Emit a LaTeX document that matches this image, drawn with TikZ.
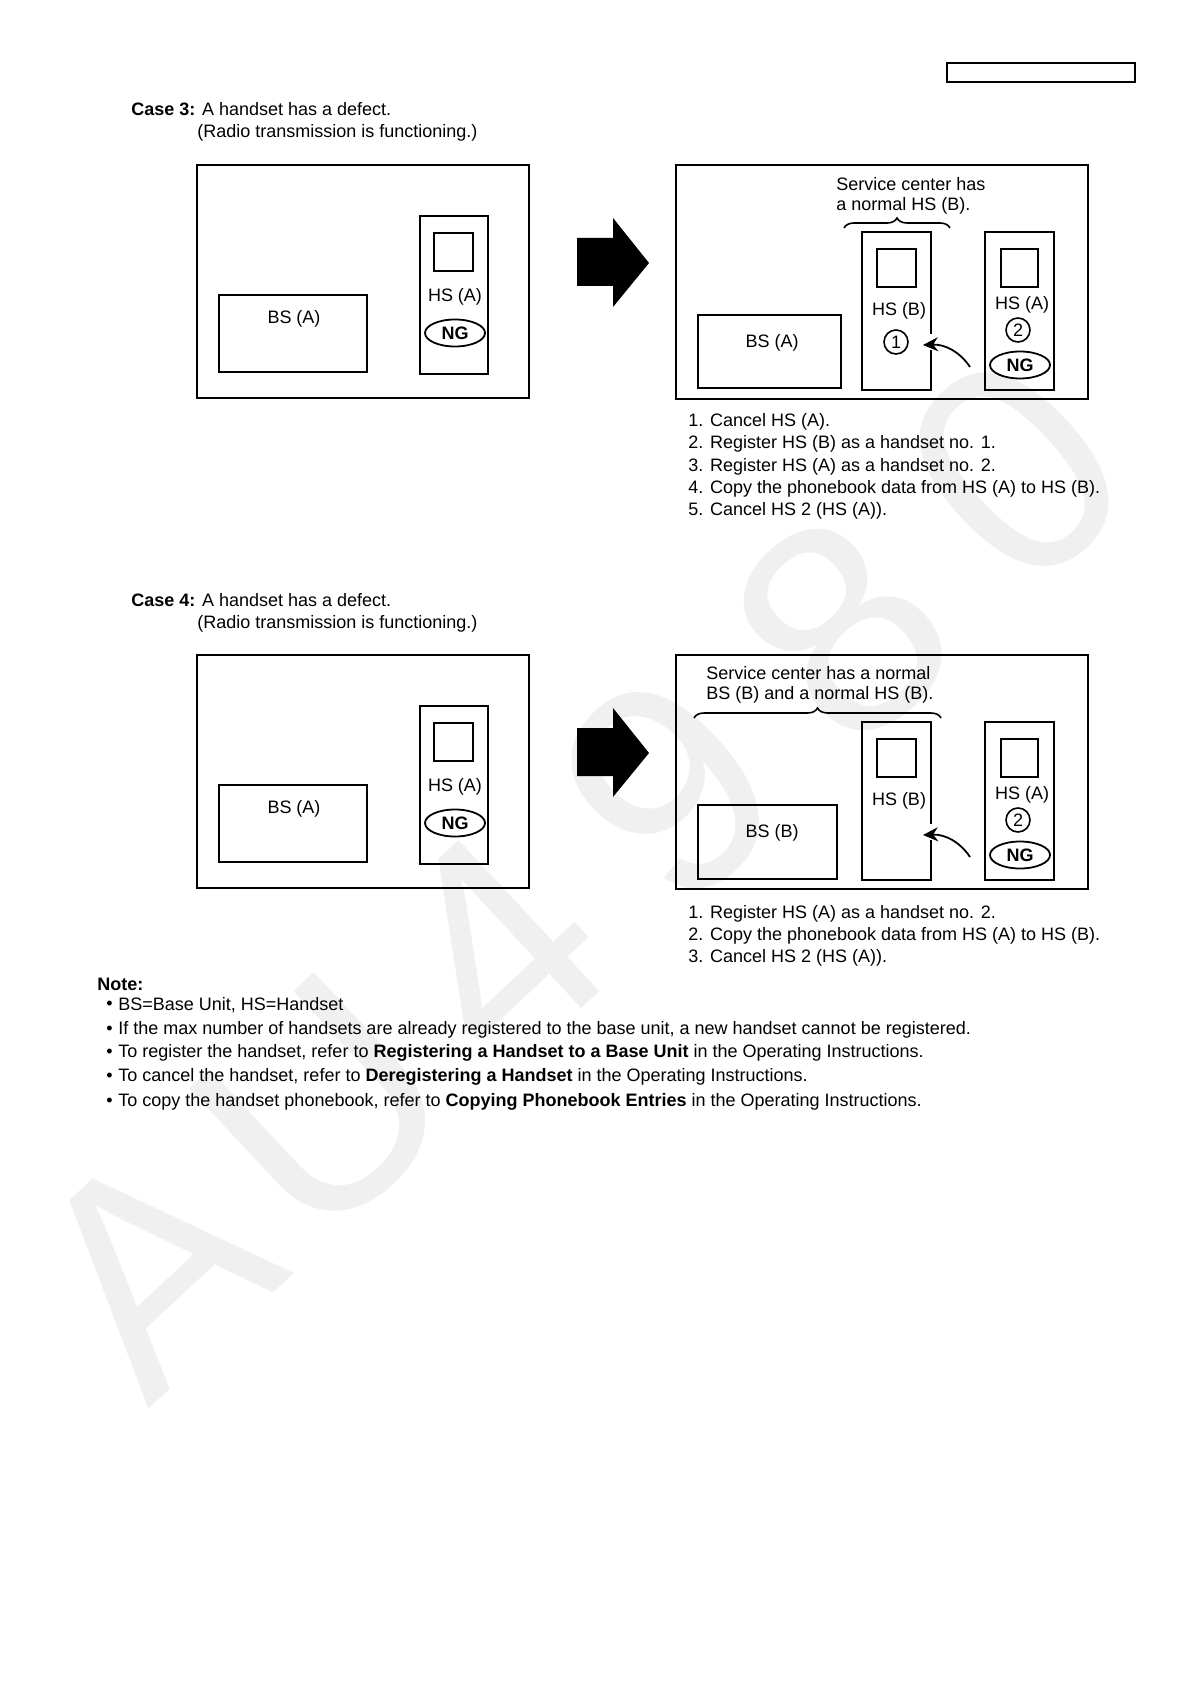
\documentclass[tikz,border=0pt]{standalone}
\usepackage{fontspec}
\setmainfont{Liberation Sans}
\usetikzlibrary{decorations.pathreplacing,arrows.meta,shapes.geometric}
\tikzset{
  box/.style={draw, line width=1.1pt},
  lbl/.style={font=\fontsize{9}{11}\selectfont, inner sep=0pt},
  txt/.style={font=\fontsize{9}{11}\selectfont, anchor=west, inner sep=0pt},
  ngmark/.style={draw, ellipse, line width=0.9pt, minimum width=30pt, minimum height=13.5pt, inner sep=0pt, font=\fontsize{9}{11}\selectfont\bfseries},
  nummark/.style={draw, circle, line width=0.8pt, minimum size=12pt, inner sep=0pt, font=\fontsize{9}{11}\selectfont},
  bigarrow/.style={fill=black},
  curvearrow/.style={-{Stealth[length=7.5pt,width=7pt]}, line width=0.9pt},
  bracestyle/.style={decorate, decoration={brace, amplitude=5pt}, line width=0.8pt},
  wmchar/.style={rotate=43, text=black!6, font=\fontsize{150}{150}\selectfont, inner sep=0pt},
}
\begin{document}
\begin{tikzpicture}[x=0.5pt,y=-0.5pt]
\useasboundingbox (0,0) rectangle (1190,1684);
\fill[white] (0,0) rectangle (1190,1684);
% watermark
\foreach \ch [count=\k from 0] in {A,U,4,9,8,0} {
  \node[wmchar] (wm\k) at ({151+172.8*\k},{1266-159.2*\k}) {\ch};
}
% top right frame
\draw[line width=0.7pt] (947,63) rectangle (1135,82);

% ---------------- Case 3 ----------------
\node[txt] (c3t) at (131,109) {\textbf{Case 3:} A handset has a defect.};
\node[txt] (c3s) at (197,133) {(Radio transmission is functioning.)};
% left panel
\draw[box] (197,165) rectangle (529,398);
\draw[box] (219,295) rectangle (367,372);
\node[lbl] (c3bsA) at (294,319) {BS (A)};
\draw[box] (420,216) rectangle (488,374);
\draw[box] (434,233) rectangle (473,271);
\node[lbl] (c3hsA) at (455,297) {HS (A)};
\node[ngmark] (c3ng) at (455,333) {NG};
% big arrow
\fill[bigarrow] (577,238) -- (613,238) -- (613,218) -- (649,263) -- (613,307) -- (613,286) -- (577,286) -- cycle;
% right panel
\draw[box] (676,165) rectangle (1088,399);
\node[txt] (c3sc1) at (836,184) {Service center has};
\node[txt] (c3sc2) at (836,206) {a normal HS (B).};
\draw[bracestyle] (844,228) -- (950,228);
\draw[box] (698,315) rectangle (841,388);
\node[lbl] (c3bsA2) at (772,343) {BS (A)};
\draw[box] (862,232) rectangle (931,390);
\draw[box] (877,249) rectangle (916,287);
\node[lbl] (c3hsB) at (899,311) {HS (B)};
\node[nummark] (c3one) at (896,342) {1};
\draw[box] (985,232) rectangle (1054,390);
\draw[box] (1001,249) rectangle (1038,287);
\node[lbl] (c3hsA2) at (1022,305) {HS (A)};
\node[nummark] (c3two) at (1018,330) {2};
\node[ngmark] (c3ng2) at (1020,365) {NG};
\fill[white] (928,334) rectangle (934,350);
\coordinate (c3tail) at (970,367);
\coordinate (c3tip) at (923,345);
\draw[curvearrow] (c3tail) .. controls (960,352) and (945,344) .. (c3tip);
% steps
\node[txt] (c3s1) at (688,421.5) {1. Cancel HS (A).};
\node[txt] (c3s2) at (688,444) {2. Register HS (B) as a handset no. 1.};
\node[txt] (c3s3) at (688,466.5) {3. Register HS (A) as a handset no. 2.};
\node[txt] (c3s4) at (688,488.5) {4. Copy the phonebook data from HS (A) to HS (B).};
\node[txt] (c3s5) at (688,511) {5. Cancel HS 2 (HS (A)).};

% ---------------- Case 4 ----------------
\node[txt] (c4t) at (131,600) {\textbf{Case 4:} A handset has a defect.};
\node[txt] (c4s) at (197,624) {(Radio transmission is functioning.)};
\begin{scope}[shift={(0,490)}]
\draw[box] (197,165) rectangle (529,398);
\draw[box] (219,295) rectangle (367,372);
\node[lbl] (c4bsA) at (294,319) {BS (A)};
\draw[box] (420,216) rectangle (488,374);
\draw[box] (434,233) rectangle (473,271);
\node[lbl] (c4hsA) at (455,297) {HS (A)};
\node[ngmark] (c4ng) at (455,333) {NG};
\fill[bigarrow] (577,238) -- (613,238) -- (613,218) -- (649,263) -- (613,307) -- (613,286) -- (577,286) -- cycle;
\draw[box] (676,165) rectangle (1088,399);
\node[txt] (c4sc1) at (706,183) {Service center has a normal};
\node[txt] (c4sc2) at (706,205) {BS (B) and a normal HS (B).};
\draw[bracestyle] (694,228) -- (941,228);
\draw[box] (698,315) rectangle (837,389);
\node[lbl] (c4bsB) at (772,343) {BS (B)};
\draw[box] (862,232) rectangle (931,390);
\draw[box] (877,249) rectangle (916,287);
\node[lbl] (c4hsB) at (899,311) {HS (B)};
\draw[box] (985,232) rectangle (1054,390);
\draw[box] (1001,249) rectangle (1038,287);
\node[lbl] (c4hsA2) at (1022,305) {HS (A)};
\node[nummark] (c4two) at (1018,330) {2};
\node[ngmark] (c4ng2) at (1020,365) {NG};
\fill[white] (928,334) rectangle (934,350);
\coordinate (c4tail) at (970,367);
\coordinate (c4tip) at (923,345);
\draw[curvearrow] (c4tail) .. controls (960,352) and (945,344) .. (c4tip);
\end{scope}
\node[txt] (c4s1) at (688,913.5) {1. Register HS (A) as a handset no. 2.};
\node[txt] (c4s2) at (688,936) {2. Copy the phonebook data from HS (A) to HS (B).};
\node[txt] (c4s3) at (688,958) {3. Cancel HS 2 (HS (A)).};

% ---------------- Note ----------------
\node[txt] (note) at (97,984) {\textbf{Note:}};
\foreach \yy/\txtline [count=\i] in {
  1005/{BS=Base Unit, HS=Handset},
  1030/{If the max number of handsets are already registered to the base unit, a new handset cannot be registered.},
  1053/{To register the handset, refer to \textbf{Registering a Handset to a Base Unit} in the Operating Instructions.},
  1077/{To cancel the handset, refer to \textbf{Deregistering a Handset} in the Operating Instructions.},
  1102/{To copy the handset phonebook, refer to \textbf{Copying Phonebook Entries} in the Operating Instructions.}} {
  \node[txt] (bul\i) at (106,\yy) {•};
  \node[txt] (nt\i) at (118,\yy) {\txtline};
}
\end{tikzpicture}
\end{document}
